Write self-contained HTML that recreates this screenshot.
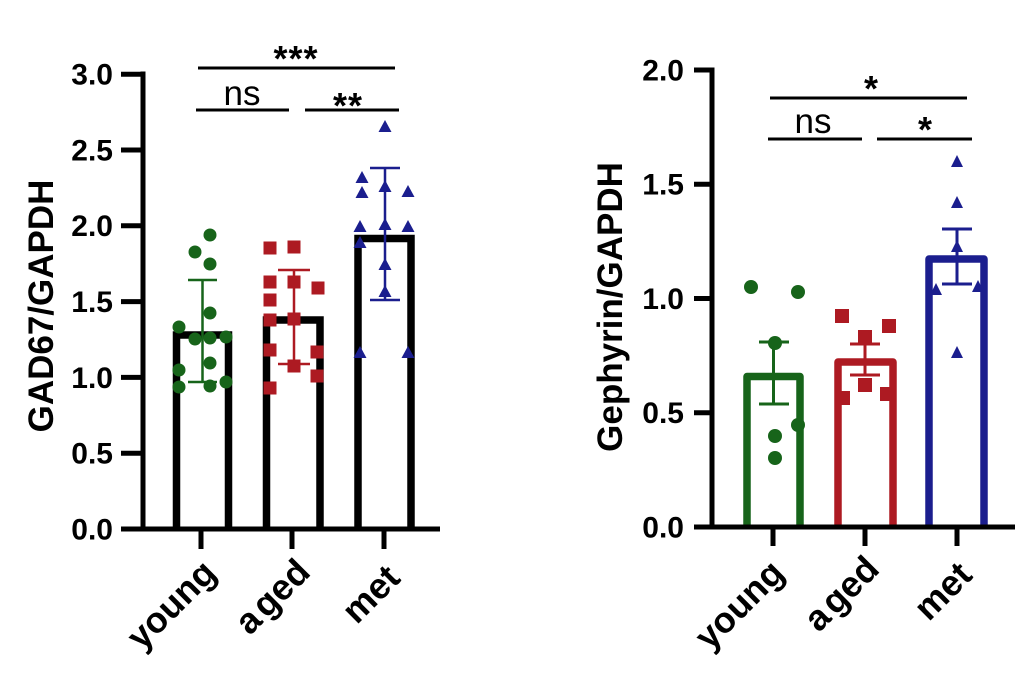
<!DOCTYPE html>
<html>
<head>
<meta charset="utf-8">
<style>
html,body{margin:0;padding:0;background:#fff;}
svg{display:block;}
text{font-family:"Liberation Sans","DejaVu Sans",sans-serif;}
</style>
</head>
<body>
<svg width="1024" height="688" viewBox="0 0 1024 688" xmlns="http://www.w3.org/2000/svg">
<rect width="1024" height="688" fill="#fff"/>

<!-- ================= LEFT CHART ================= -->
<g fill="none" stroke="#000" stroke-width="7.5" stroke-linejoin="miter">
  <path d="M176.5,529 V335 H228.5 V529"/>
  <path d="M266.5,529 V320 H320 V529"/>
  <path d="M358,529 V238.5 H411 V529"/>
</g>

<g stroke="#000" stroke-width="5" fill="none">
  <line x1="143" y1="71.5" x2="143" y2="531.5"/>
  <line x1="121" y1="529" x2="440" y2="529"/>
  <line x1="121" y1="74.2" x2="143" y2="74.2"/>
  <line x1="121" y1="150" x2="143" y2="150"/>
  <line x1="121" y1="225.8" x2="143" y2="225.8"/>
  <line x1="121" y1="301.6" x2="143" y2="301.6"/>
  <line x1="121" y1="377.4" x2="143" y2="377.4"/>
  <line x1="121" y1="453.2" x2="143" y2="453.2"/>
  <line x1="201" y1="529" x2="201" y2="549"/>
  <line x1="292" y1="529" x2="292" y2="549"/>
  <line x1="384" y1="529" x2="384" y2="549"/>
</g>

<g font-size="30" font-weight="bold" text-anchor="end" fill="#000">
  <text x="113" y="84.5">3.0</text>
  <text x="113" y="160.5">2.5</text>
  <text x="113" y="236">2.0</text>
  <text x="113" y="312">1.5</text>
  <text x="113" y="388">1.0</text>
  <text x="113" y="463.5">0.5</text>
  <text x="113" y="539.5">0.0</text>
</g>

<text x="0" y="0" transform="translate(53,306) rotate(-90)" font-size="35" font-weight="bold" text-anchor="middle">GAD67/GAPDH</text>

<g font-size="36" font-weight="bold" text-anchor="end">
  <text transform="translate(218,575) rotate(-45)">young</text>
  <text transform="translate(312,574) rotate(-45)" word-spacing="-6">a ged</text>
  <text transform="translate(402,580) rotate(-45)">met</text>
</g>

<g fill="#17641a">
  <circle cx="210" cy="235" r="6.5"/>
  <circle cx="195" cy="252" r="6.5"/>
  <circle cx="210" cy="264" r="6.5"/>
  <circle cx="210" cy="313" r="6.5"/>
  <circle cx="179" cy="327" r="6.5"/>
  <circle cx="195" cy="339" r="6.5"/>
  <circle cx="210" cy="338" r="6.5"/>
  <circle cx="226" cy="337" r="6.5"/>
  <circle cx="210" cy="363" r="6.5"/>
  <circle cx="179" cy="370" r="6.5"/>
  <circle cx="179" cy="387" r="6.5"/>
  <circle cx="210" cy="386" r="6.5"/>
  <circle cx="226" cy="382" r="6.5"/>
</g>
<g stroke="#17641a" stroke-width="2.5" fill="none">
  <line x1="202.5" y1="280" x2="202.5" y2="382"/>
  <line x1="188" y1="280" x2="217" y2="280"/>
  <line x1="188" y1="382" x2="217" y2="382"/>
</g>

<g fill="#ad1a22">
  <rect x="263.5" y="241.5" width="13" height="13"/>
  <rect x="287.5" y="240.5" width="13" height="13"/>
  <rect x="263.5" y="275.5" width="13" height="13"/>
  <rect x="287.5" y="275.5" width="13" height="13"/>
  <rect x="311.5" y="281.5" width="13" height="13"/>
  <rect x="263.5" y="293.5" width="13" height="13"/>
  <rect x="263.5" y="313.5" width="13" height="13"/>
  <rect x="287.5" y="312.5" width="13" height="13"/>
  <rect x="263.5" y="343.5" width="13" height="13"/>
  <rect x="310.5" y="345.5" width="13" height="13"/>
  <rect x="287.5" y="359.5" width="13" height="13"/>
  <rect x="310.5" y="369.5" width="13" height="13"/>
  <rect x="263.5" y="381.5" width="13" height="13"/>
</g>
<g stroke="#ad1a22" stroke-width="2.5" fill="none">
  <line x1="294" y1="270" x2="294" y2="364"/>
  <line x1="278" y1="270" x2="310" y2="270"/>
  <line x1="278" y1="364" x2="310" y2="364"/>
</g>

<g fill="#1b1e8e">
  <path d="M385,120 L378.5,132 L391.5,132 Z"/>
  <path d="M362,171 L355.5,183 L368.5,183 Z"/>
  <path d="M385,180 L378.5,192 L391.5,192 Z"/>
  <path d="M408,185 L401.5,197 L414.5,197 Z"/>
  <path d="M362,186 L355.5,198 L368.5,198 Z"/>
  <path d="M360,220 L353.5,232 L366.5,232 Z"/>
  <path d="M385,218 L378.5,230 L391.5,230 Z"/>
  <path d="M408,220 L401.5,232 L414.5,232 Z"/>
  <path d="M360,236 L353.5,248 L366.5,248 Z"/>
  <path d="M385,258 L378.5,270 L391.5,270 Z"/>
  <path d="M385,285 L378.5,297 L391.5,297 Z"/>
  <path d="M360,346 L353.5,358 L366.5,358 Z"/>
  <path d="M408,346 L401.5,358 L414.5,358 Z"/>
</g>
<g stroke="#1b1e8e" stroke-width="2.5" fill="none">
  <line x1="385" y1="168" x2="385" y2="300"/>
  <line x1="370" y1="168" x2="400" y2="168"/>
  <line x1="370" y1="300" x2="400" y2="300"/>
</g>

<g stroke="#000" stroke-width="3">
  <line x1="198" y1="68" x2="395" y2="68"/>
  <line x1="196" y1="110" x2="289" y2="110"/>
  <line x1="305" y1="110" x2="399" y2="110"/>
</g>
<text x="296" y="71" font-size="36" font-weight="bold" text-anchor="middle" letter-spacing="1">***</text>
<text x="242" y="105" font-size="35" text-anchor="middle">ns</text>
<text x="348" y="118" font-size="36" font-weight="bold" text-anchor="middle" letter-spacing="1">**</text>

<!-- ================= RIGHT CHART ================= -->
<g fill="#17641a">
  <circle cx="751" cy="287" r="7"/>
  <circle cx="798" cy="292" r="7"/>
  <circle cx="775" cy="343" r="7"/>
  <circle cx="775" cy="436" r="7"/>
  <circle cx="775" cy="458" r="7"/>
  <circle cx="798" cy="425" r="7"/>
</g>
<g fill="#ad1a22">
  <rect x="835" y="309" width="14" height="14"/>
  <rect x="882" y="319" width="14" height="14"/>
  <rect x="858" y="330" width="14" height="14"/>
  <rect x="858" y="378" width="14" height="14"/>
  <rect x="836" y="391" width="14" height="14"/>
  <rect x="880" y="387" width="14" height="14"/>
</g>
<g fill="#1b1e8e">
  <path d="M957,155 L951,167 L963,167 Z"/>
  <path d="M957,196 L951,208 L963,208 Z"/>
  <path d="M957,240 L951,252 L963,252 Z"/>
  <path d="M936,283 L930,295 L942,295 Z"/>
  <path d="M978,280 L972,292 L984,292 Z"/>
  <path d="M957,346 L951,358 L963,358 Z"/>
</g>

<g fill="none" stroke-width="7.5" stroke-linejoin="round">
  <path d="M747,527 V376.5 H800 V527" stroke="#17641a"/>
  <path d="M838,527 V362 H893 V527" stroke="#ad1a22"/>
  <path d="M929,527 V259 H984 V527" stroke="#1b1e8e"/>
</g>

<g stroke="#17641a" stroke-width="3" fill="none">
  <line x1="773.5" y1="342" x2="773.5" y2="404"/>
  <line x1="759" y1="342" x2="789" y2="342"/>
  <line x1="759" y1="404" x2="789" y2="404"/>
</g>
<g stroke="#ad1a22" stroke-width="3" fill="none">
  <line x1="865" y1="344" x2="865" y2="375"/>
  <line x1="850" y1="344" x2="880" y2="344"/>
  <line x1="850" y1="375" x2="880" y2="375"/>
</g>
<g stroke="#1b1e8e" stroke-width="3" fill="none">
  <line x1="957" y1="229" x2="957" y2="284"/>
  <line x1="942" y1="229" x2="972" y2="229"/>
  <line x1="942" y1="284" x2="972" y2="284"/>
</g>

<g stroke="#000" stroke-width="5" fill="none">
  <line x1="712" y1="67.5" x2="712" y2="529.5"/>
  <line x1="694" y1="527" x2="1015" y2="527"/>
  <line x1="694" y1="70" x2="712" y2="70"/>
  <line x1="694" y1="184.25" x2="712" y2="184.25"/>
  <line x1="694" y1="298.5" x2="712" y2="298.5"/>
  <line x1="694" y1="412.75" x2="712" y2="412.75"/>
  <line x1="773" y1="527" x2="773" y2="546"/>
  <line x1="865" y1="527" x2="865" y2="546"/>
  <line x1="957" y1="527" x2="957" y2="546"/>
</g>

<g font-size="30" font-weight="bold" text-anchor="end" fill="#000">
  <text x="684" y="80.5">2.0</text>
  <text x="684" y="194.5">1.5</text>
  <text x="684" y="309">1.0</text>
  <text x="684" y="423">0.5</text>
  <text x="684" y="537.5">0.0</text>
</g>

<text x="0" y="0" transform="translate(622,307) rotate(-90)" font-size="35" font-weight="bold" text-anchor="middle">Gephyrin/GAPDH</text>

<g font-size="36" font-weight="bold" text-anchor="end">
  <text transform="translate(786,575) rotate(-45)">young</text>
  <text transform="translate(881,571) rotate(-45)" word-spacing="-6">a ged</text>
  <text transform="translate(974,577) rotate(-45)">met</text>
</g>

<g stroke="#000" stroke-width="3">
  <line x1="770" y1="98" x2="967" y2="98"/>
  <line x1="768" y1="139" x2="862" y2="139"/>
  <line x1="877" y1="139" x2="972" y2="139"/>
</g>
<text x="871" y="101" font-size="36" font-weight="bold" text-anchor="middle">*</text>
<text x="813" y="133" font-size="35" text-anchor="middle">ns</text>
<text x="925" y="142" font-size="36" font-weight="bold" text-anchor="middle">*</text>

</svg>
</body>
</html>
